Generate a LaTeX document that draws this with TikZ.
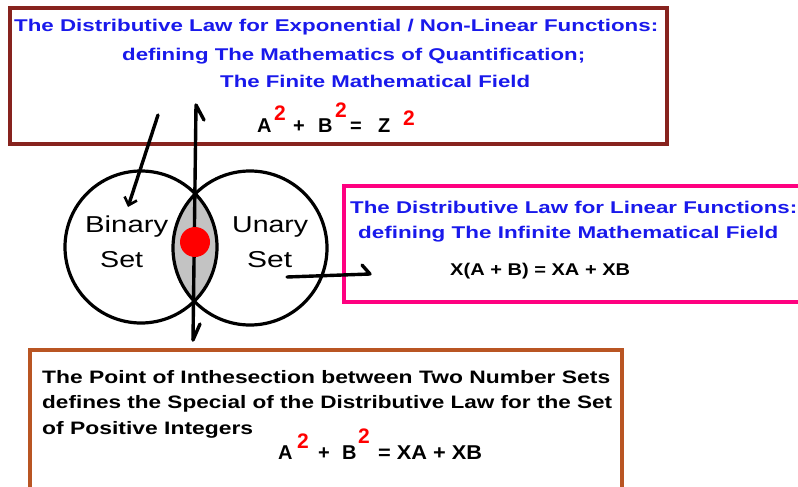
\documentclass[tikz,border=0pt]{standalone}
\usepackage{fontspec}
\setmainfont{Liberation Sans}
\usepackage{graphicx}
\usetikzlibrary{arrows.meta}
\definecolor{topred}{RGB}{135,35,30}
\definecolor{pinkline}{RGB}{255,0,128}
\definecolor{brownline}{RGB}{185,85,35}
\definecolor{txtblue}{RGB}{25,25,235}
\definecolor{lensgray}{RGB}{195,195,195}
\definecolor{dotred}{RGB}{255,0,0}
\newcommand\fitto[2]{\sbox0{#2}\pgfmathsetmacro\fitfac{#1/\the\wd0}\scalebox{\fitfac}[1]{\usebox0}}
\newcommand\redsq[1]{\raisebox{#1}{\textcolor{dotred}{\fontsize{21}{21}\selectfont 2}}}
\newcommand\gl[2]{\makebox[#1pt][l]{#2}}
\begin{document}
\begin{tikzpicture}[x=1pt,y=-1pt,
  frame/.style={line width=3.2pt},
  bluetxt/.style={text=txtblue,font=\fontsize{17}{17}\bfseries,inner sep=0pt,anchor=base west},
  blacktxt/.style={text=black,font=\fontsize{18}{18}\bfseries,inner sep=0pt,anchor=base west},
  eqtxt/.style={text=black,font=\fontsize{20}{20}\bfseries,inner sep=0pt,anchor=base west},
  setlabel/.style={text=black,font=\fontsize{23}{23}\selectfont,inner sep=0pt,anchor=base west},
  arr/.style={line width=3.4pt,black,line cap=round,line join=round},
  ring/.style={line width=3.2pt,black},
  ]
\useasboundingbox (0,0) rectangle (798,487);
\clip (0,0) rectangle (798,487);
\fill[white] (0,0) rectangle (798,487);

% boxes
\draw[frame,topred] (10,8) rectangle (667,144);
\draw[frame,pinkline] (344,186) rectangle (812,302);
\draw[frame,brownline] (30,350) rectangle (622,500);

% top box text
\node[bluetxt] (t1) at (14,32) {\fitto{644}{The Distributive Law for Exponential / Non-Linear Functions:}};
\node[bluetxt] (t2) at (122,60) {\fitto{463}{defining The Mathematics of Quantification;}};
\node[bluetxt] (t3) at (220,88) {\fitto{310}{The Finite Mathematical Field}};
\node[eqtxt] (teq) at (257,132) {\gl{17}{A}\gl{19}{\redsq{12pt}}\gl{25}{+}\gl{17}{B}\gl{15}{\redsq{15pt}}\gl{28}{=}\gl{25}{Z}\redsq{7pt}};

% pink box text
\node[bluetxt] (p1) at (350,213) {\fitto{447}{The Distributive Law for Linear Functions:}};
\node[bluetxt] (p2) at (358,238) {\fitto{420}{defining The Infinite Mathematical Field}};
\node[eqtxt,font=\fontsize{17}{17}\bfseries] (peq) at (450,275) {\fitto{180}{X(A + B) = XA + XB}};

% bottom box text
\node[blacktxt] (b1) at (42,383) {\fitto{568}{The Point of Inthesection between Two Number Sets}};
\node[blacktxt] (b2) at (42,408) {\fitto{570}{defines the Special of the Distributive Law for the Set}};
\node[blacktxt] (b3) at (42,434) {\fitto{211}{of Positive Integers}};
\node[eqtxt] (beq) at (278,459) {\gl{19}{A}\gl{21}{\redsq{11pt}}\gl{24}{+}\gl{16}{B}\gl{20}{\redsq{16pt}}\fitto{104}{= XA + XB}};

% Venn circles
\begin{scope}
  \clip (141,247) circle (76);
  \fill[lensgray] (250,248) circle (77);
\end{scope}
\draw[ring] (141,247) circle (76) node (binc) {};
\draw[ring] (250,248) circle (77) node (unac) {};
\coordinate (lensmid) at (195,242);

\node[setlabel] (bin1) at (85,232) {\fitto{83}{Binary}};
\node[setlabel] (bin2) at (100,267) {\fitto{43}{Set}};
\node[setlabel] (una1) at (232,232) {\fitto{76}{Unary}};
\node[setlabel] (una2) at (247,267) {\fitto{45}{Set}};

% arrows
\coordinate (vtop) at (196,105);
\coordinate (vbot) at (193,340);
\coordinate (vtopb) at (204,120);
\coordinate (vbotb) at (200,324);
\draw[arr] (vbot) -- (vtop) -- (vtopb);
\draw[arr] (vbot) -- (vbotb);
\coordinate (sl1) at (158,115);
\coordinate (sl2) at (128,207);
\draw[arr,-{Straight Barb[length=7pt,width=13pt,line width=2.6pt]}] (sl1) -- (sl2);
\coordinate (ua1) at (287,277);
\coordinate (ua2) at (370,274);
\coordinate (ua2b) at (362,265);
\draw[arr] (ua1) -- (ua2) -- (ua2b);

% red dot
\fill[dotred] (lensmid) circle (15) node (dot) {};
\end{tikzpicture}
\end{document}
